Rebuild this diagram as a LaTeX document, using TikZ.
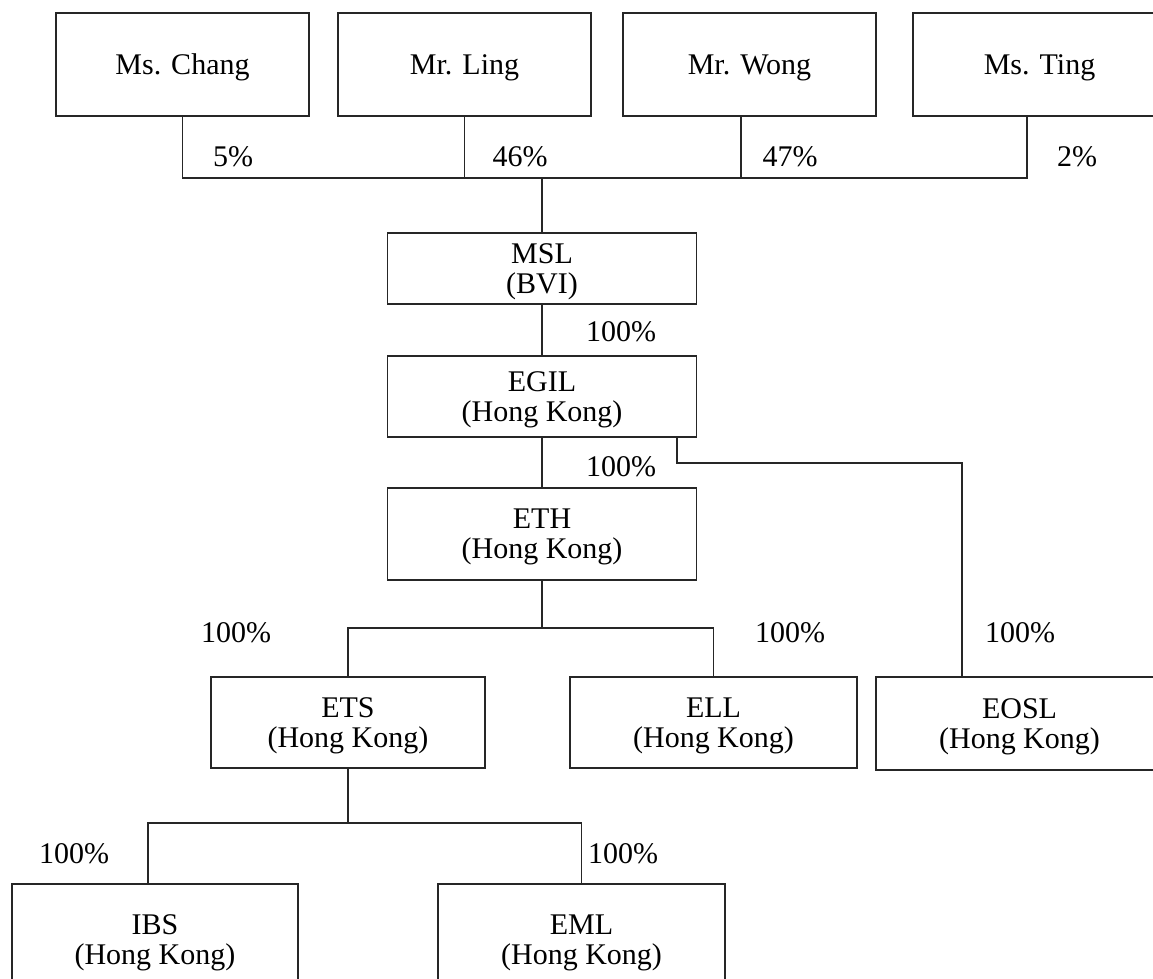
\documentclass[tikz,border=0pt]{standalone}
\usepackage{fontspec}
\setmainfont{Liberation Serif}
\begin{document}
\begin{tikzpicture}[x=1pt,y=-1pt,line width=1.1pt,
  box/.style={draw=black!85, inner sep=0pt, align=center, text depth=0pt,
    font=\fontsize{30}{30}\selectfont},
  pct/.style={inner sep=0pt, font=\fontsize{30}{30}\selectfont},
  link/.style={draw=black!85}]
  \clip (0,0) rectangle (1153,979);
  % shareholders
  \node[box, minimum width=253, minimum height=103] (chang) at (182.5,64.5) {Ms. Chang};
  \node[box, minimum width=253, minimum height=103] (ling) at (464.5,64.5) {Mr. Ling};
  \node[box, minimum width=253, minimum height=103] (wong) at (749.5,64.5) {Mr. Wong};
  \node[box, minimum width=253, minimum height=103] (ting) at (1039.5,64.5) {Ms. Ting};
  \coordinate (topbar) at (542,178);
  \draw[link] (chang.south) -- (chang.south |- topbar) -| ([xshift=-12.5pt]ting.south);
  \draw[link] (ling.south) -- (ling.south |- topbar);
  \draw[link] ([xshift=-8.5pt]wong.south) -- ++(0,62);
  \node[pct] at (233,157) {5\%};
  \node[pct] at (520,157) {46\%};
  \node[pct] at (790,157) {47\%};
  \node[pct] at (1077,157) {2\%};
  % holding chain
  \node[box, minimum width=309, minimum height=71] (msl) at (542,268.5) {MSL\\(BVI)};
  \node[box, minimum width=309, minimum height=81] (egil) at (542,396.5) {EGIL\\(Hong Kong)};
  \node[box, minimum width=309, minimum height=92] (eth) at (542,534) {ETH\\(Hong Kong)};
  \draw[link] (topbar) -- (msl);
  \draw[link] (msl) -- (egil);
  \draw[link] (egil) -- (eth);
  \node[pct] at (621,332) {100\%};
  \node[pct] at (621,467) {100\%};
  % subsidiaries
  \node[box, minimum width=274, minimum height=91] (ets) at (348,722.5) {ETS\\(Hong Kong)};
  \node[box, minimum width=287, minimum height=91] (ell) at (713.5,722.5) {ELL\\(Hong Kong)};
  \node[box, minimum width=287, minimum height=93] (eosl) at (1019.5,723.5) {EOSL\\(Hong Kong)};
  \coordinate (ethbar) at (542,628);
  \coordinate (eoslbar) at (962,463);
  \draw[link] (eth) -- (ethbar);
  \draw[link] (ets.north) |- (ethbar) -| (ell.north);
  \draw[link] ([xshift=135pt]egil.south) |- (eoslbar) -- (eoslbar |- eosl.north);
  \node[pct] at (236,633) {100\%};
  \node[pct] at (790,633) {100\%};
  \node[pct] at (1020,633) {100\%};
  % bottom row
  \node[box, minimum width=286, minimum height=112] (ibs) at (155,940) {IBS\\(Hong Kong)};
  \node[box, minimum width=287, minimum height=112] (eml) at (581.5,940) {EML\\(Hong Kong)};
  \coordinate (etsbar) at (348,823);
  \draw[link] (ets) -- (etsbar);
  \draw[link] ([xshift=-7pt]ibs.north) |- (etsbar) -| (eml.north);
  \node[pct] at (74,854) {100\%};
  \node[pct] at (623,854) {100\%};
\end{tikzpicture}
\end{document}
